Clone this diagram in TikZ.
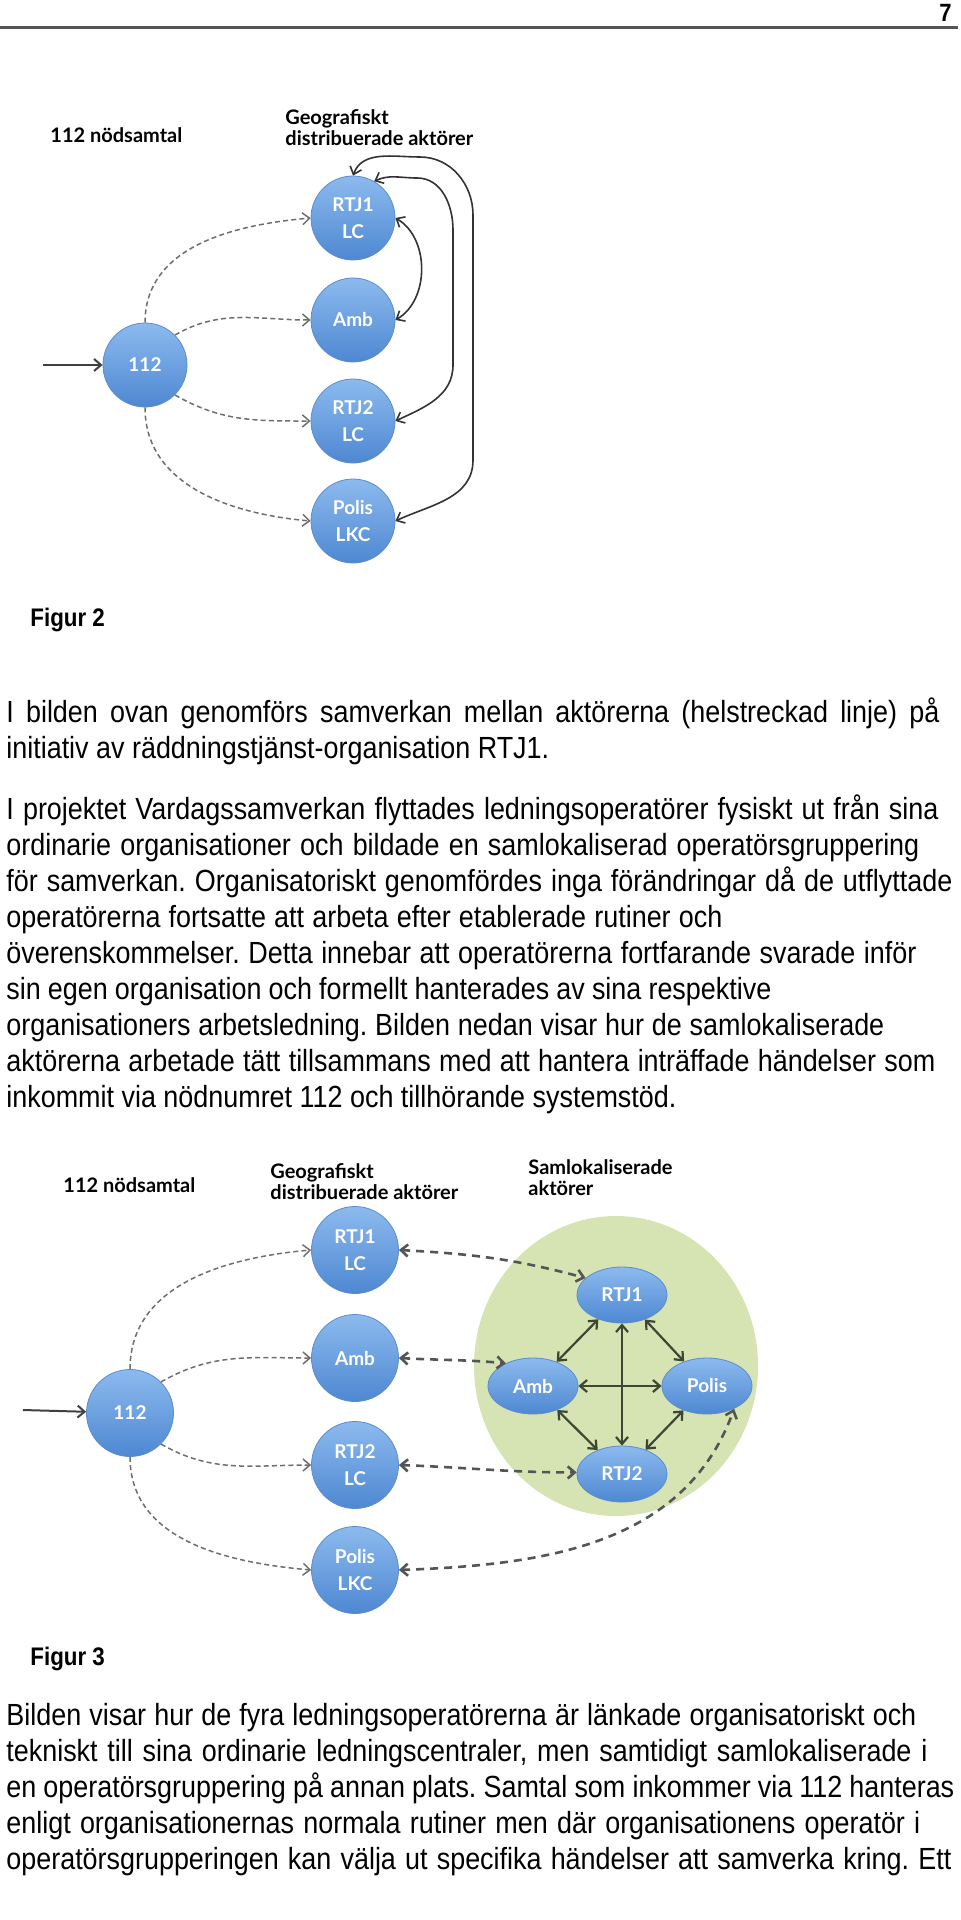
\documentclass[tikz,border=0pt]{standalone}
\usepackage{fontspec}
\setmainfont{Liberation Sans}[FakeStretch=0.88]
\newfontfamily\labelfont{Lato}
\usetikzlibrary{arrows.meta,shapes.geometric}
\frenchspacing

\definecolor{nodeblue}{RGB}{78,136,210}
\definecolor{nodelight}{RGB}{140,186,238}
\definecolor{nodeedge}{RGB}{92,140,205}
\definecolor{samgreen}{RGB}{214,227,178}
\definecolor{dashgray}{RGB}{85,85,85}
\definecolor{linkgreen}{RGB}{60,72,52}

% one printed line, spread to end at x = #1 (picture pixels)
\newcommand\fitline[2]{\makebox[\dimexpr #1pt/2 - 3pt\relax][s]{#2}}

\tikzset{
  actor/.style={circle, draw=nodeedge, top color=nodelight, bottom color=nodeblue,
    minimum size=42pt, inner sep=0pt, align=center, text=white,
    font=\labelfont\bfseries\fontsize{9.5}{13.5}\selectfont},
  coactor/.style={ellipse, draw=nodeedge, top color=nodelight, bottom color=nodeblue,
    minimum width=45pt, minimum height=28pt, inner sep=0pt, text=white,
    font=\labelfont\bfseries\fontsize{9.5}{13.5}\selectfont},
  heading/.style={anchor=west, align=left, inner sep=0pt,
    font=\labelfont\bfseries\fontsize{10}{10.5}\selectfont},
  call/.style={->, dashgray!85, line width=0.75pt, dash pattern=on 2.5pt off 1.6pt},
  relay/.style={<->, dashgray, line width=1.3pt, dash pattern=on 4pt off 3pt},
  coop/.style={<->, black!80, line width=0.8pt},
  colink/.style={<->, linkgreen, line width=1.1pt},
  body/.style={anchor=north west, align=left, inner sep=0pt,
    font=\fontsize{15.3}{18}\selectfont},
  figlabel/.style={anchor=west, inner sep=0pt, font=\bfseries\fontsize{12.7}{15}\selectfont}
}

\begin{document}
\begin{tikzpicture}[x=0.5pt, y=0.5pt, >={Straight Barb[length=3.5pt,width=6pt]}]
    \useasboundingbox (0,0) rectangle (960,-1920);
    % page head
    \node [anchor=base east, inner sep=0pt, font=\bfseries\fontsize{12.5}{15}\selectfont] (pageno) at (952,-22) {7};
    \draw [dashgray, line width=1.5pt] (0,-28) -- (958,-28);

    % Figur 2
    \node [heading] (t112) at (50,-135) {112 nödsamtal};
    \node [heading] (tgeo) at (285,-128) {Geografiskt\\distribuerade aktörer};
    \node [actor] (a112) at (145,-365) {112};
    \node [actor] (artj1) at (353,-218) {RTJ1\\LC};
    \node [actor] (aamb) at (353,-320) {Amb};
    \node [actor] (artj2) at (353,-421) {RTJ2\\LC};
    \node [actor] (apolis) at (353,-521) {Polis\\LKC};
    \coordinate (ain) at (43,-365);
    \draw [->, black!75, line width=1pt] (ain) -- (a112);
    \draw [call] (a112.north) to[out=90,in=185] (artj1.west);
    \draw [call] (a112.45) to[out=30,in=180] (aamb.west);
    \draw [call] (a112.-45) to[out=-30,in=180] (artj2.west);
    \draw [call] (a112.south) to[out=-90,in=175] (apolis.west);
    \draw [coop] (artj1.east) to[out=-30,in=30] (aamb.east);
    \draw [coop] (artj1.60) to[out=25,in=180] (417,-178) to[out=0,in=90] (453,-230)
        -- (453,-365) to[out=-90,in=25] (artj2.east);
    \draw [coop] (artj1.north) to[out=70,in=180] (420,-157) to[out=0,in=90] (473,-215)
        -- (473,-460) to[out=-90,in=25] (apolis.east);
    \node [figlabel] (fig2) at (30,-620) {Figur 2};

    \node [body] (p1) at (6,-697) {\fitline{939}{I bilden ovan genomförs samverkan mellan aktörerna (helstreckad linje) på}\\
        initiativ av räddningstjänst-organisation RTJ1.};
    \node [body] (p2) at (6,-794) {\fitline{938}{I projektet Vardagssamverkan flyttades ledningsoperatörer fysiskt ut från sina}\\
        \fitline{919}{ordinarie organisationer och bildade en samlokaliserad operatörsgruppering}\\
        \fitline{952}{för samverkan. Organisatoriskt genomfördes inga förändringar då de utflyttade}\\
        \fitline{722}{operatörerna fortsatte att arbeta efter etablerade rutiner och}\\
        \fitline{916}{överenskommelser. Detta innebar att operatörerna fortfarande svarade inför}\\
        \fitline{771}{sin egen organisation och formellt hanterades av sina respektive}\\
        \fitline{884}{organisationers arbetsledning. Bilden nedan visar hur de samlokaliserade}\\
        \fitline{935}{aktörerna arbetade tätt tillsammans med att hantera inträffade händelser som}\\
        inkommit via nödnumret 112 och tillhörande systemstöd.};

    % Figur 3
    \node [heading] (b112) at (63,-1185) {112 nödsamtal};
    \node [heading] (bgeo) at (270,-1182) {Geografiskt\\distribuerade aktörer};
    \node [heading] (bsam) at (528,-1178) {Samlokaliserade\\aktörer};
    \node [ellipse, fill=samgreen, minimum width=142pt, minimum height=150pt] (samzone) at (616,-1366) {};
    \node [actor, minimum size=43.5pt] (c112) at (130,-1413) {112};
    \node [actor, minimum size=43.5pt] (crtj1) at (355,-1250) {RTJ1\\LC};
    \node [actor, minimum size=43.5pt] (camb) at (355,-1358) {Amb};
    \node [actor, minimum size=43.5pt] (crtj2) at (355,-1465) {RTJ2\\LC};
    \node [actor, minimum size=43.5pt] (cpolis) at (355,-1570) {Polis\\LKC};
    \node [coactor] (srtj1) at (622,-1295) {RTJ1};
    \node [coactor] (samb) at (533,-1386) {Amb};
    \node [coactor] (spolis) at (707,-1386) {Polis};
    \node [coactor] (srtj2) at (622,-1474) {RTJ2};
    \coordinate (cin) at (23,-1410);
    \draw [->, black!75, line width=1pt] (cin) -- (c112);
    \draw [call] (c112.north) to[out=90,in=185] (crtj1.west);
    \draw [call] (c112.45) to[out=30,in=180] (camb.west);
    \draw [call] (c112.-45) to[out=-30,in=180] (crtj2.west);
    \draw [call] (c112.south) to[out=-90,in=175] (cpolis.west);
    \draw [relay] (crtj1.east) to[out=-3,in=165] (srtj1.155);
    \draw [relay] (camb.east) to[out=-3,in=175] (samb.140);
    \draw [relay] (crtj2.east) to[out=-2,in=180] (srtj2.178);
    \draw [relay] (cpolis.east) to[out=2,in=-110] (spolis.-40);
    \draw [colink] (srtj1) -- (srtj2);
    \draw [colink] (samb) -- (spolis);
    \draw [colink] (srtj1) -- (samb);
    \draw [colink] (srtj1) -- (spolis);
    \draw [colink] (srtj2) -- (samb);
    \draw [colink] (srtj2) -- (spolis);
    \node [figlabel] (fig3) at (30,-1659) {Figur 3};

    \node [body] (p3) at (6,-1703) {\fitline{916}{Bilden visar hur de fyra ledningsoperatörerna är länkade organisatoriskt och}\\
        \fitline{927}{tekniskt till sina ordinarie ledningscentraler, men samtidigt samlokaliserade i}\\
        \fitline{954}{en operatörsgruppering på annan plats. Samtal som inkommer via 112 hanteras}\\
        \fitline{920}{enligt organisationernas normala rutiner men där organisationens operatör i}\\
        \fitline{951}{operatörsgrupperingen kan välja ut specifika händelser att samverka kring. Ett}};
\end{tikzpicture}
\end{document}
